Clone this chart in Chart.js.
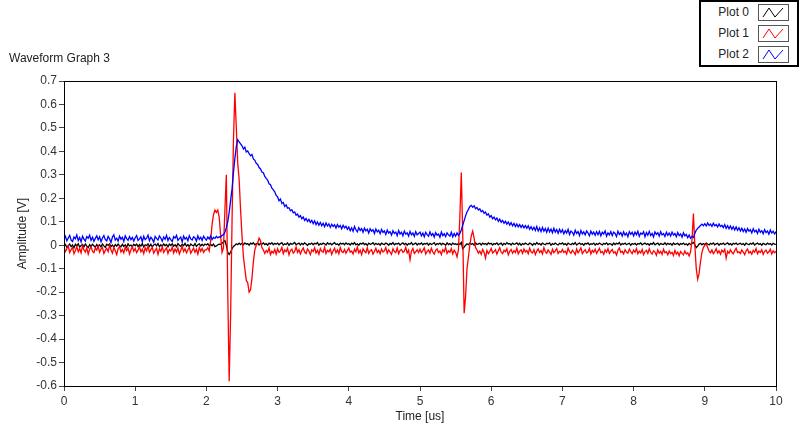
<!DOCTYPE html>
<html>
<head>
<meta charset="utf-8">
<script src="https://cdn.jsdelivr.net/npm/chart.js@4"></script>
<style>
  body { margin: 0; background: #fff; font-family: "Liberation Sans", Arial, sans-serif; }
  #wrap { position: relative; width: 800px; height: 429px; }
  #graphName { position: absolute; left: 9px; top: 51px; font-size: 12px; color: #222; }
  #legendBox { position: absolute; left: 699px; top: 0; width: 96px; height: 63px; border: 2px solid #000; background: #fff; }
  .row { position: absolute; left: 0; width: 96px; height: 20px; }
  .row span { position: absolute; right: 48px; top: 3px; font-size: 12px; color: #222; }
  .row svg { position: absolute; left: 57px; top: 2px; }
</style>
</head>
<body>
<div id="wrap">
  <canvas id="myChart" width="800" height="429"></canvas>
  <div id="graphName">Waveform Graph 3</div>
  <div id="legendBox"></div>
</div>
<script>
// waveform timing: t0 and dt in microseconds
var t0 = 0
var dt = 0.02

var plotNames = ['Plot 0', 'Plot 1', 'Plot 2']
var plotColors = ['#000000', '#ff0000', '#0000ff']
var yTicks = [-0.6, -0.5, -0.4, -0.3, -0.2, -0.1, 0, 0.1, 0.2, 0.3, 0.4, 0.5, 0.6, 0.7]

// Plot 0 (black), one row per half microsecond
var plot0 = [
  -0.004,0.003,-0.009,-0.002,0.005,-0.006,0.001,-0.011,0.004,-0.003,0.006,-0.008,-0.001,0.003,-0.007,0.005,-0.004,-0.01,0.002,-0.005,0.004,-0.002,-0.009,0.003,-0.006,
  0.002,-0.007,0.005,-0.003,-0.009,0.004,-0.001,0.006,-0.006,0.001,-0.008,0.003,-0.004,0.005,-0.002,-0.007,0.004,-0.005,0.002,-0.009,0.006,-0.003,0.001,-0.006,0.004,
  -0.002,0.005,-0.006,0.003,-0.004,0.007,-0.008,0.002,-0.001,0.006,-0.005,0.004,-0.007,0.001,0.005,-0.003,0.007,-0.006,0.002,-0.004,0.006,-0.002,0.003,-0.007,0.005,
  -0.001,0.006,-0.004,0.002,-0.006,0.007,0.0,-0.005,0.004,-0.002,0.008,-0.004,0.003,-0.006,0.005,0.0,-0.003,0.007,-0.005,0.002,0.006,-0.003,0.004,-0.002,0.005,
  0.001,0.006,-0.003,0.004,-0.002,0.005,-0.006,-0.003,0.002,0.005,0.004,0.008,0.015,0.02,0.0,-0.03,-0.04,-0.03,-0.015,-0.005,0.0,0.006,0.002,0.009,0.003,
  0.008,0.002,0.01,0.004,0.007,0.0,0.009,0.005,0.011,0.002,0.006,0.009,0.001,0.008,0.004,0.01,0.003,0.007,0.0,0.009,0.005,0.011,0.002,0.008,0.004,
  0.009,0.002,0.007,0.011,0.001,0.006,0.003,0.01,0.0,0.008,0.004,0.007,0.012,0.002,0.006,0.009,0.001,0.008,0.003,0.01,0.005,-0.001,0.007,0.004,0.009,
  0.002,0.008,0.005,0.011,0.0,0.007,0.003,0.009,0.006,0.001,0.01,0.004,0.008,0.002,0.007,0.011,0.003,0.006,0.0,0.009,0.005,0.008,0.002,0.01,0.004,
  0.007,0.001,0.009,0.004,0.011,0.002,0.006,0.0,0.008,0.005,0.01,0.003,0.007,-0.001,0.009,0.004,0.006,0.011,0.002,0.008,0.003,0.007,0.0,0.009,0.005,
  0.003,0.009,0.006,0.0,0.008,0.004,0.011,0.002,0.007,0.005,0.009,0.001,0.006,0.01,0.003,0.008,0.0,0.007,0.004,0.011,0.002,0.006,0.009,0.001,0.007,
  0.004,0.01,0.002,0.007,0.005,0.009,0.0,0.008,0.003,0.006,0.011,0.001,0.007,0.004,0.009,0.002,0.008,0.005,0.0,0.01,0.003,0.007,0.001,0.009,0.004,
  0.006,0.002,0.008,0.003,0.012,-0.015,-0.008,0.0,0.006,0.002,0.009,0.004,0.007,0.0,0.01,0.003,0.006,0.008,0.001,0.009,0.004,0.007,0.002,0.01,0.005,
  0.008,0.001,0.007,0.004,0.01,0.002,0.006,0.009,0.0,0.008,0.003,0.011,0.005,0.007,0.001,0.009,0.004,0.006,0.01,0.002,0.008,0.0,0.007,0.003,0.009,
  0.005,0.002,0.009,0.006,0.0,0.008,0.003,0.011,0.004,0.007,0.001,0.009,0.005,0.002,0.008,0.006,0.01,0.0,0.007,0.003,0.009,0.004,0.001,0.008,0.005,
  0.01,0.003,0.007,0.0,0.009,0.005,0.002,0.008,0.004,0.011,0.001,0.006,0.009,0.003,0.007,0.0,0.008,0.005,0.01,0.002,0.006,0.004,0.009,0.001,0.007,
  0.003,0.009,0.005,0.001,0.008,0.004,0.01,0.002,0.007,0.006,0.0,0.009,0.003,0.008,0.005,0.011,0.001,0.007,0.004,0.009,0.002,0.006,0.008,0.0,0.007,
  0.004,0.008,0.001,0.007,0.005,0.01,0.002,0.006,0.009,0.003,0.007,0.0,0.008,0.004,0.011,0.002,0.006,0.009,0.001,0.007,0.005,0.003,0.01,0.002,0.008,
  0.004,0.007,0.0,0.009,0.003,0.006,0.008,0.001,0.007,0.004,0.009,0.002,0.006,0.0,0.008,0.003,0.007,0.012,0.002,-0.01,-0.004,0.005,0.008,0.002,0.007,
  0.003,0.009,0.005,0.001,0.008,0.004,0.01,0.002,0.006,0.008,0.0,0.007,0.004,0.009,0.002,0.006,0.01,0.003,0.007,0.001,0.008,0.005,0.009,0.002,0.006,
  0.008,0.003,0.007,0.0,0.009,0.005,0.002,0.008,0.004,0.01,0.001,0.006,0.009,0.003,0.007,0.0,0.008,0.005,0.002,0.009,0.004,0.007,0.001,0.008,0.005,
  0.004
]

// Plot 1 (red)
var plot1 = [
  -0.008,-0.027,-0.015,-0.003,-0.031,-0.019,-0.01,-0.036,-0.022,-0.006,-0.028,-0.014,-0.033,-0.002,-0.02,-0.029,-0.011,-0.038,-0.017,-0.007,-0.025,-0.032,-0.012,-0.021,-0.004,
  -0.03,-0.016,-0.009,-0.035,-0.022,-0.013,-0.027,-0.001,-0.019,-0.034,-0.01,-0.024,-0.04,-0.015,-0.006,-0.029,-0.018,-0.033,-0.008,-0.023,-0.012,-0.037,-0.02,-0.005,-0.026,
  -0.014,-0.032,-0.021,-0.007,-0.028,-0.017,-0.036,-0.011,-0.024,-0.003,-0.03,-0.019,-0.009,-0.034,-0.022,-0.013,-0.039,-0.016,-0.026,-0.006,-0.031,-0.02,-0.012,-0.035,-0.018,
  -0.025,-0.008,-0.033,-0.016,-0.029,-0.011,-0.037,-0.021,-0.005,-0.027,-0.015,-0.032,-0.019,-0.009,-0.034,-0.023,-0.012,-0.03,-0.017,-0.038,-0.01,-0.026,-0.014,-0.031,-0.02,
  -0.02,-0.01,-0.025,0.02,0.09,0.13,0.15,0.14,0.15,0.12,0.04,-0.03,-0.01,0.15,0.30,-0.2,-0.58,-0.3,0.1,0.45,0.65,0.5,0.35,0.28,0.15,
  0.04,-0.05,-0.1,-0.15,-0.16,-0.2,-0.19,-0.14,-0.07,-0.02,0.0,0.01,0.03,0.02,-0.01,-0.02,-0.035,-0.022,-0.03,-0.012,-0.04,-0.026,-0.033,-0.018,-0.038,
  -0.015,-0.03,-0.024,-0.009,-0.036,-0.02,-0.028,-0.013,-0.041,-0.023,-0.017,-0.034,-0.026,-0.008,-0.031,-0.019,-0.037,-0.022,-0.012,-0.029,-0.035,-0.016,-0.025,-0.04,-0.02,
  -0.027,-0.011,-0.033,-0.021,-0.038,-0.014,-0.026,-0.03,-0.009,-0.035,-0.022,-0.028,-0.016,-0.039,-0.024,-0.013,-0.032,-0.02,-0.036,-0.01,-0.027,-0.031,-0.018,-0.034,-0.023,
  -0.012,-0.03,-0.025,-0.037,-0.017,-0.028,-0.008,-0.033,-0.021,-0.04,-0.015,-0.026,-0.032,-0.011,-0.035,-0.023,-0.019,-0.038,-0.027,-0.013,-0.031,-0.022,-0.036,-0.016,-0.029,
  -0.024,-0.01,-0.034,-0.02,-0.029,-0.039,-0.015,-0.027,-0.032,-0.012,-0.036,-0.022,-0.018,-0.03,-0.026,-0.009,-0.033,-0.021,-0.062,-0.025,-0.014,-0.035,-0.028,-0.019,-0.031,
  -0.017,-0.032,-0.023,-0.011,-0.037,-0.026,-0.02,-0.034,-0.013,-0.029,-0.038,-0.022,-0.016,-0.031,-0.025,-0.04,-0.019,-0.028,-0.009,-0.035,-0.024,-0.03,-0.014,-0.037,-0.021,
  -0.03,-0.05,-0.02,0.12,0.31,0.05,-0.29,-0.22,-0.1,-0.05,0.0,0.04,0.06,0.03,-0.01,-0.02,-0.034,-0.025,-0.039,-0.018,-0.03,-0.055,-0.022,-0.036,-0.026,
  -0.014,-0.033,-0.027,-0.019,-0.038,-0.024,-0.011,-0.03,-0.036,-0.021,-0.028,-0.015,-0.041,-0.026,-0.018,-0.034,-0.023,-0.031,-0.012,-0.037,-0.025,-0.02,-0.035,-0.016,-0.029,
  -0.022,-0.036,-0.013,-0.028,-0.033,-0.019,-0.04,-0.025,-0.016,-0.031,-0.023,-0.037,-0.011,-0.027,-0.034,-0.02,-0.029,-0.039,-0.017,-0.032,-0.024,-0.014,-0.035,-0.026,-0.03,
  -0.018,-0.031,-0.025,-0.038,-0.012,-0.027,-0.034,-0.021,-0.029,-0.04,-0.016,-0.032,-0.023,-0.011,-0.036,-0.026,-0.019,-0.033,-0.028,-0.014,-0.037,-0.022,-0.03,-0.017,-0.035,
  -0.024,-0.013,-0.032,-0.027,-0.039,-0.02,-0.03,-0.015,-0.035,-0.025,-0.018,-0.033,-0.028,-0.042,-0.021,-0.012,-0.031,-0.026,-0.037,-0.019,-0.029,-0.034,-0.016,-0.027,-0.036,
  -0.021,-0.03,-0.014,-0.036,-0.025,-0.033,-0.018,-0.04,-0.027,-0.022,-0.035,-0.015,-0.031,-0.038,-0.024,-0.029,-0.043,-0.02,-0.034,-0.026,-0.039,-0.017,-0.032,-0.028,-0.041,
  -0.025,-0.036,-0.03,-0.044,-0.022,-0.038,-0.029,-0.045,-0.027,-0.035,-0.041,-0.024,-0.037,-0.032,-0.046,-0.028,0.02,0.135,0.0,-0.1,-0.145,-0.12,-0.07,-0.03,-0.01,
  0.0,0.005,-0.01,-0.025,-0.032,-0.02,-0.036,-0.027,-0.015,-0.033,-0.024,-0.038,-0.021,-0.029,-0.017,-0.055,-0.026,-0.034,-0.019,-0.03,-0.037,-0.023,-0.013,-0.031,-0.028,
  -0.035,-0.02,-0.029,-0.04,-0.024,-0.016,-0.033,-0.027,-0.038,-0.022,-0.03,-0.014,-0.036,-0.025,-0.031,-0.019,-0.039,-0.026,-0.021,-0.034,-0.028,-0.017,-0.037,-0.024,-0.032,
  -0.026
]

// Plot 2 (blue)
var plot2 = [
  0.025,0.038,0.019,0.031,0.042,0.022,0.016,0.035,0.028,0.044,0.02,0.033,0.014,0.039,0.026,0.018,0.037,0.03,0.043,0.021,0.034,0.017,0.029,0.04,0.023,
  0.036,0.015,0.031,0.041,0.024,0.019,0.038,0.027,0.012,0.035,0.044,0.022,0.03,0.017,0.039,0.026,0.034,0.016,0.04,0.028,0.021,0.037,0.024,0.033,0.018,
  0.032,0.041,0.02,0.027,0.036,0.015,0.038,0.024,0.03,0.043,0.019,0.034,0.026,0.013,0.037,0.029,0.022,0.04,0.031,0.017,0.035,0.025,0.042,0.02,0.033,
  0.024,0.016,0.037,0.03,0.042,0.021,0.028,0.035,0.014,0.039,0.026,0.033,0.019,0.041,0.027,0.022,0.036,0.031,0.018,0.04,0.025,0.034,0.02,0.038,0.029,
  0.022,0.035,0.027,0.04,0.024,0.033,0.029,0.038,0.031,0.036,0.035,0.042,0.045,0.055,0.075,0.1,0.14,0.19,0.24,0.31,0.37,0.42,0.45,0.44,0.432,
  0.424,0.41,0.418,0.398,0.402,0.39,0.381,0.387,0.368,0.362,0.349,0.344,0.331,0.325,0.312,0.309,0.293,0.285,0.278,0.262,0.258,0.243,0.236,0.228,0.212,
  0.206,0.19,0.197,0.178,0.182,0.165,0.172,0.158,0.16,0.147,0.151,0.138,0.142,0.128,0.133,0.12,0.126,0.113,0.12,0.106,0.114,0.101,0.11,0.097,0.106,
  0.092,0.104,0.088,0.099,0.085,0.097,0.083,0.094,0.079,0.095,0.082,0.091,0.076,0.089,0.08,0.087,0.073,0.088,0.077,0.084,0.07,0.085,0.074,0.081,0.068,
  0.078,0.062,0.074,0.059,0.08,0.066,0.057,0.075,0.063,0.071,0.055,0.073,0.061,0.068,0.052,0.07,0.06,0.066,0.05,0.069,0.057,0.064,0.049,0.067,0.055,
  0.061,0.046,0.065,0.052,0.058,0.043,0.062,0.05,0.056,0.041,0.063,0.048,0.055,0.04,0.06,0.047,0.053,0.039,0.059,0.045,0.052,0.038,0.058,0.044,0.05,
  0.056,0.04,0.052,0.036,0.055,0.045,0.038,0.057,0.042,0.05,0.035,0.054,0.043,0.048,0.034,0.056,0.041,0.049,0.037,0.053,0.044,0.039,0.055,0.036,0.05,
  0.038,0.052,0.042,0.05,0.065,0.085,0.105,0.125,0.142,0.153,0.165,0.17,0.162,0.168,0.156,0.161,0.15,0.155,0.143,0.148,0.136,0.141,0.128,0.134,0.12,
  0.126,0.113,0.12,0.108,0.116,0.102,0.111,0.098,0.106,0.094,0.102,0.09,0.099,0.086,0.096,0.083,0.093,0.08,0.091,0.078,0.088,0.076,0.086,0.074,0.084,
  0.072,0.083,0.068,0.079,0.066,0.077,0.063,0.08,0.061,0.074,0.058,0.076,0.06,0.071,0.055,0.073,0.057,0.069,0.053,0.072,0.056,0.067,0.051,0.068,0.054,
  0.066,0.049,0.062,0.052,0.068,0.046,0.06,0.055,0.043,0.064,0.05,0.058,0.041,0.063,0.048,0.057,0.044,0.061,0.052,0.04,0.06,0.047,0.056,0.042,0.058,
  0.045,0.059,0.04,0.055,0.048,0.061,0.038,0.053,0.044,0.058,0.041,0.056,0.05,0.037,0.06,0.046,0.054,0.039,0.057,0.043,0.052,0.036,0.058,0.047,0.055,
  0.04,0.056,0.045,0.06,0.038,0.052,0.047,0.058,0.036,0.054,0.043,0.059,0.041,0.05,0.035,0.057,0.046,0.053,0.039,0.058,0.044,0.05,0.037,0.055,0.042,
  0.052,0.039,0.056,0.043,0.05,0.036,0.054,0.041,0.048,0.034,0.053,0.04,0.046,0.032,0.044,0.03,0.038,0.033,0.05,0.065,0.072,0.078,0.084,0.09,0.083,
  0.092,0.082,0.095,0.084,0.09,0.08,0.094,0.083,0.088,0.078,0.091,0.08,0.085,0.075,0.088,0.072,0.083,0.07,0.082,0.068,0.079,0.065,0.078,0.064,0.075,
  0.061,0.072,0.058,0.069,0.055,0.071,0.06,0.066,0.052,0.07,0.057,0.064,0.05,0.068,0.055,0.062,0.049,0.066,0.054,0.061,0.047,0.065,0.052,0.06,0.048,
  0.058
]

function toPoints(values) {
  return values.map(function(v, i) { return { x: t0 + i * dt, y: v } })
}

var allPlots = [plot0, plot1, plot2]

// legend box like the LabVIEW plot legend
var legendBox = document.getElementById('legendBox')
plotNames.forEach(function(name, i) {
  var row = document.createElement('div')
  row.className = 'row'
  row.style.top = (i * 21) + 'px'
  row.innerHTML = '<span>' + name + '</span>' +
    '<svg width="31" height="17"><rect x="0.5" y="0.5" width="30" height="16" fill="#fff" stroke="#555"/>' +
    '<polyline points="5,13 11,4 17,13 25,4" fill="none" stroke="' + plotColors[i] + '" stroke-width="1"/></svg>'
  legendBox.appendChild(row)
})

var frame = {
  id: 'frame',
  afterDatasetsDraw: function(chart) {
    var a = chart.chartArea
    var c = chart.ctx
    c.save()
    c.strokeStyle = '#000'
    c.lineWidth = 1
    c.strokeRect(Math.round(a.left) + 0.5, Math.round(a.top) + 0.5, Math.round(a.right - a.left), Math.round(a.bottom - a.top))
    c.restore()
  }
}

var ctx = document.getElementById('myChart')

var chart = new Chart(ctx, {
  type: 'line',
  data: {
    datasets: allPlots.map(function(vals, i) {
      return {
        label: plotNames[i],
        data: toPoints(vals),
        borderColor: plotColors[i],
        borderWidth: 1.3,
        pointRadius: 0,
        tension: 0,
        order: 2 - i
      }
    })
  },
  options: {
    responsive: false,
    animation: false,
    events: [],
    layout: { padding: { left: 0, right: 24, top: 81, bottom: 0 } },
    plugins: { legend: { display: false }, tooltip: { enabled: false } },
    scales: {
      x: {
        type: 'linear',
        min: 0,
        max: 10,
        afterFit: function(s) { s.height = 43 },
        ticks: { stepSize: 1, color: '#333', font: { size: 12, family: 'Liberation Sans' }, padding: 3, maxRotation: 0 },
        grid: { drawOnChartArea: false, tickLength: 5, color: '#444' },
        border: { color: '#000' },
        title: { display: true, text: 'Time [us]', color: '#222', font: { size: 12, family: 'Liberation Sans' }, padding: { top: 0, bottom: 5 } }
      },
      y: {
        min: -0.6,
        max: 0.7,
        afterFit: function(s) { s.width = 64 },
        afterBuildTicks: function(s) { s.ticks = yTicks.map(function(v) { return { value: v } }) },
        ticks: {
          color: '#333',
          autoSkip: false,
          padding: 2,
          font: { size: 12, family: 'Liberation Sans' },
          callback: function(v) { return String(Number(v.toFixed(1))) }
        },
        grid: { drawOnChartArea: false, tickLength: 5, color: '#444' },
        border: { color: '#000' },
        title: { display: true, text: 'Amplitude [V]', color: '#222', font: { size: 12, family: 'Liberation Sans' }, padding: { top: 15, bottom: 0 } }
      }
    }
  },
  plugins: [frame]
})
</script>
</body>
</html>
